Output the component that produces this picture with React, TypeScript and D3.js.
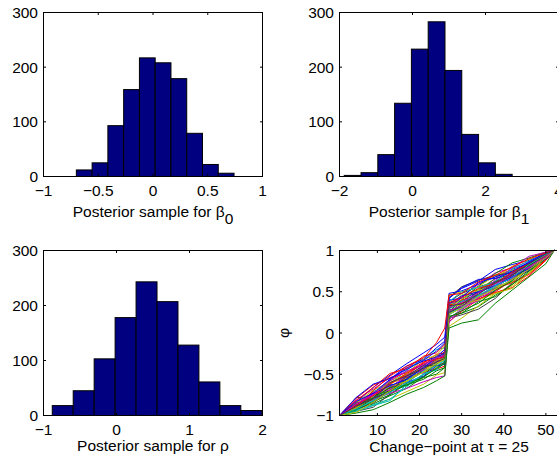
import React from 'react';
import * as d3 from 'd3';

// histogram bins: [first edge, last edge] and counts of the 10 bins
const beta0Range = [-0.7, 0.74];
const beta0Counts = [12, 25, 93, 159, 217, 208, 179, 79, 22, 6];
const beta1Range = [-1.87, 2.73];
const beta1Counts = [2, 7, 40, 134, 233, 283, 194, 77, 25, 4];
const rhoRange = [-0.88, 1.99];
const rhoCounts = [18, 45, 103, 178, 243, 207, 128, 61, 18, 9];

const countTicks = [0, 100, 200, 300];
const beta0Ticks = [-1, -0.5, 0, 0.5, 1];
const beta1Ticks = [-2, 0, 2, 4];
const rhoTicks = [-1, 0, 1, 2];

// phi sample paths, read at these change-point steps
const phiSteps = [1, 5, 9, 13, 17, 21, 24, 26, 27, 30, 34, 38, 42, 46, 50, 52];
const phiPaths = [
  [-1, -0.84, -0.66, -0.51, -0.37, -0.24, -0.14, -0.05, 0.48, 0.51, 0.59, 0.68, 0.77, 0.85, 0.96, 1],
  [-1, -0.92, -0.86, -0.76, -0.67, -0.53, -0.42, -0.35, 0.2, 0.24, 0.32, 0.46, 0.59, 0.73, 0.9, 1],
  [-1, -0.87, -0.75, -0.6, -0.51, -0.36, -0.26, -0.24, 0.3, 0.36, 0.44, 0.56, 0.71, 0.85, 0.95, 1],
  [-1, -0.94, -0.82, -0.68, -0.53, -0.41, -0.37, -0.34, 0.22, 0.34, 0.5, 0.63, 0.75, 0.83, 0.94, 1],
  [-1, -0.81, -0.68, -0.54, -0.47, -0.39, -0.33, -0.29, 0.32, 0.44, 0.59, 0.73, 0.79, 0.87, 0.97, 1],
  [-1, -0.91, -0.88, -0.8, -0.71, -0.62, -0.51, -0.48, 0.08, 0.18, 0.33, 0.48, 0.57, 0.72, 0.89, 1],
  [-1, -0.78, -0.8, -0.72, -0.58, -0.44, -0.32, -0.22, 0.38, 0.48, 0.56, 0.62, 0.69, 0.78, 0.92, 1],
  [-1, -0.9, -0.74, -0.57, -0.42, -0.34, -0.29, -0.2, 0.42, 0.54, 0.63, 0.77, 0.83, 0.88, 0.96, 1],
  [-1, -0.93, -0.84, -0.69, -0.63, -0.56, -0.46, -0.42, 0.24, 0.38, 0.53, 0.61, 0.67, 0.75, 0.9, 1],
  [-1, -0.83, -0.76, -0.67, -0.54, -0.48, -0.44, -0.4, 0.14, 0.26, 0.41, 0.49, 0.55, 0.69, 0.88, 1],
  [-1, -0.88, -0.71, -0.62, -0.45, -0.3, -0.2, -0.18, 0.34, 0.39, 0.45, 0.52, 0.65, 0.83, 0.97, 1],
  [-1, -0.92, -0.78, -0.61, -0.53, -0.48, -0.38, -0.27, 0.28, 0.31, 0.39, 0.54, 0.7, 0.86, 0.96, 1],
  [-1, -0.85, -0.69, -0.6, -0.55, -0.47, -0.42, -0.32, 0.33, 0.46, 0.53, 0.66, 0.81, 0.89, 0.98, 1],
  [-1, -0.95, -0.9, -0.74, -0.6, -0.45, -0.34, -0.3, 0.18, 0.22, 0.29, 0.42, 0.61, 0.77, 0.92, 1],
  [-1, -0.87, -0.73, -0.56, -0.4, -0.32, -0.18, -0.1, 0.4, 0.42, 0.49, 0.58, 0.66, 0.76, 0.91, 1],
  [-1, -0.91, -0.83, -0.75, -0.61, -0.54, -0.5, -0.42, 0.26, 0.4, 0.57, 0.72, 0.85, 0.91, 0.98, 1],
  [-1, -0.79, -0.63, -0.55, -0.48, -0.35, -0.31, -0.23, 0.36, 0.4, 0.46, 0.54, 0.61, 0.71, 0.89, 1],
  [-1, -0.93, -0.81, -0.65, -0.57, -0.42, -0.3, -0.28, 0.25, 0.29, 0.43, 0.58, 0.73, 0.81, 0.92, 1],
  [-1, -0.88, -0.81, -0.73, -0.67, -0.59, -0.54, -0.52, 0.13, 0.28, 0.43, 0.51, 0.66, 0.8, 0.94, 1],
  [-1, -0.84, -0.72, -0.63, -0.48, -0.32, -0.27, -0.16, 0.46, 0.5, 0.56, 0.7, 0.76, 0.84, 0.95, 1],
  [-1, -0.92, -0.85, -0.7, -0.55, -0.39, -0.28, -0.26, 0.24, 0.35, 0.51, 0.66, 0.71, 0.77, 0.91, 1],
  [-1, -0.86, -0.78, -0.63, -0.6, -0.52, -0.4, -0.38, 0.3, 0.43, 0.61, 0.68, 0.75, 0.85, 0.95, 1],
  [-1, -0.9, -0.76, -0.7, -0.64, -0.5, -0.38, -0.29, 0.2, 0.24, 0.38, 0.44, 0.59, 0.75, 0.92, 1],
  [-1, -0.82, -0.66, -0.49, -0.43, -0.28, -0.24, -0.14, 0.34, 0.36, 0.41, 0.5, 0.64, 0.81, 0.96, 1],
  [-1, -0.94, -0.87, -0.8, -0.65, -0.49, -0.45, -0.35, 0.38, 0.5, 0.55, 0.62, 0.78, 0.87, 0.96, 1],
  [-1, -0.87, -0.72, -0.66, -0.51, -0.45, -0.35, -0.33, 0.16, 0.3, 0.47, 0.64, 0.79, 0.93, 0.98, 1],
  [-1, -0.91, -0.77, -0.58, -0.5, -0.43, -0.39, -0.3, 0.32, 0.34, 0.4, 0.48, 0.54, 0.73, 0.91, 1],
  [-1, -0.85, -0.79, -0.71, -0.56, -0.41, -0.36, -0.25, 0.43, 0.56, 0.64, 0.7, 0.73, 0.83, 0.95, 1],
  [-1, -0.78, -0.62, -0.55, -0.44, -0.33, -0.22, -0.12, 0.42, 0.55, 0.65, 0.66, 0.74, 0.86, 0.97, 1],
  [-1, -0.97, -0.93, -0.84, -0.74, -0.66, -0.58, -0.52, 0.06, 0.12, 0.16, 0.36, 0.52, 0.68, 0.84, 1],
  [-1, -0.9, -0.7, -0.52, -0.4, -0.3, -0.12, 0.06, 0.46, 0.48, 0.62, 0.7, 0.8, 0.9, 0.97, 1],
  [-1, -0.95, -0.88, -0.82, -0.62, -0.5, -0.44, -0.36, 0.22, 0.31, 0.45, 0.55, 0.64, 0.8, 0.93, 1],
  [-1, -0.86, -0.74, -0.69, -0.51, -0.41, -0.34, -0.26, 0.27, 0.33, 0.42, 0.6, 0.68, 0.79, 0.92, 1],
  [-1, -0.9, -0.8, -0.64, -0.59, -0.47, -0.33, -0.31, 0.31, 0.41, 0.52, 0.56, 0.62, 0.78, 0.93, 1],
  [-1, -0.88, -0.79, -0.71, -0.52, -0.39, -0.4, -0.36, 0.25, 0.32, 0.49, 0.62, 0.72, 0.82, 0.93, 1],
  [-1, -0.83, -0.73, -0.64, -0.56, -0.42, -0.3, -0.24, 0.35, 0.45, 0.5, 0.57, 0.68, 0.78, 0.9, 1],
  [-1, -0.93, -0.79, -0.66, -0.63, -0.53, -0.43, -0.37, 0.19, 0.27, 0.36, 0.52, 0.63, 0.82, 0.95, 1],
  [-1, -0.87, -0.76, -0.62, -0.49, -0.37, -0.32, -0.28, 0.37, 0.43, 0.54, 0.6, 0.74, 0.84, 0.94, 1],
  [-1, -0.92, -0.82, -0.72, -0.6, -0.46, -0.4, -0.33, 0.29, 0.38, 0.46, 0.57, 0.67, 0.83, 0.95, 1],
  [-1, -0.86, -0.75, -0.58, -0.46, -0.38, -0.3, -0.27, 0.31, 0.37, 0.49, 0.6, 0.72, 0.8, 0.93, 1],
  [-1, -0.96, -0.84, -0.7, -0.58, -0.47, -0.37, -0.32, 0.23, 0.3, 0.44, 0.53, 0.65, 0.77, 0.91, 1],
  [-1, -0.89, -0.8, -0.6, -0.52, -0.43, -0.35, -0.31, 0.33, 0.35, 0.47, 0.61, 0.7, 0.84, 0.96, 1],
];
const phiTicksX = [10, 20, 30, 40, 50];
const phiTicksY = [-1, -0.5, 0, 0.5, 1];
const phiDomainX = [1, 53];

// matlab default colour order
const lineColors = ['#0000ff', '#008000', '#ff0000', '#00bfbf', '#bf00bf', '#bfbf00', '#404040'];

const FONT = 'Arial, "Liberation Sans", Helvetica, sans-serif';
const FS = 15.5;
const TICK = 2.5;

const cols = [[43.5, 262.5], [339.5, 558.5]];
const rows = [[12.5, 176.5], [250.5, 415.5]];

const fmt = (v: number) => (v < 0 ? '\u2212' + Math.abs(v) : String(v));

function Frame({ x, y, xTicks, yTicks }: any) {
  const [x0, x1] = x.range();
  const [y0, y1] = y.range(); // y0 bottom, y1 top
  return (
    <g>
      <rect x={x0} y={y1} width={x1 - x0} height={y0 - y1} fill="none" stroke="#000" strokeWidth={1} />
      {xTicks.map((t: number) => (
        <g key={'x' + t}>
          <line x1={x(t)} x2={x(t)} y1={y0} y2={y0 - TICK} stroke="#000" />
          <line x1={x(t)} x2={x(t)} y1={y1} y2={y1 + TICK} stroke="#000" />
          <text x={x(t)} y={y0 + 19} textAnchor="middle">{fmt(t)}</text>
        </g>
      ))}
      {yTicks.map((t: number) => (
        <g key={'y' + t}>
          <line x1={x0} x2={x0 + TICK} y1={y(t)} y2={y(t)} stroke="#000" />
          <line x1={x1} x2={x1 - TICK} y1={y(t)} y2={y(t)} stroke="#000" />
          <text x={x0 - 5.5} y={y(t)} dy="0.36em" textAnchor="end">{fmt(t)}</text>
        </g>
      ))}
    </g>
  );
}

function Hist({ col, row, range, counts, ticks, label, sub, labelDy }: any) {
  const x = d3.scaleLinear().domain([ticks[0], ticks[ticks.length - 1]]).range(cols[col]);
  const y = d3.scaleLinear().domain([0, 300]).range([rows[row][1], rows[row][0]]);
  const w = (range[1] - range[0]) / counts.length;
  const edges = d3.range(counts.length).map((i) => range[0] + i * w);
  return (
    <g>
      {counts.map((c: number, i: number) => (
        <rect key={i} x={x(edges[i])} y={y(c)} width={x(edges[i] + w) - x(edges[i])}
          height={y(0) - y(c)} fill="#000080" stroke="#000" strokeWidth={1} />
      ))}
      <Frame x={x} y={y} xTicks={ticks} yTicks={countTicks} />
      <text x={(cols[col][0] + cols[col][1]) / 2} y={rows[row][1] + labelDy} textAnchor="middle">
        {label}
        {sub !== undefined && <tspan dy={6.5}>{sub}</tspan>}
      </text>
    </g>
  );
}

function PhiPanel() {
  const x = d3.scaleLinear().domain(phiDomainX).range(cols[1]);
  const y = d3.scaleLinear().domain([-1, 1]).range([rows[1][1], rows[1][0]]);
  const line = d3.line<number>().x((_, i) => x(phiSteps[i])).y((d) => y(d));
  return (
    <g>
      {phiPaths.map((p, i) => (
        <path key={i} d={line(p) || ''} fill="none" stroke={lineColors[i % lineColors.length]} strokeWidth={1} />
      ))}
      <Frame x={x} y={y} xTicks={phiTicksX} yTicks={phiTicksY} />
      <text x={(cols[1][0] + cols[1][1]) / 2} y={rows[1][1] + 36} textAnchor="middle">
        Change−point at τ = 25
      </text>
      <text transform={`translate(289,${(rows[1][0] + rows[1][1]) / 2}) rotate(-90)`} textAnchor="middle">φ</text>
    </g>
  );
}

export default function App() {
  return (
    <svg width={557} height={461} style={{ position: 'absolute', left: 0, top: 0, background: '#fff' }}
      fontFamily={FONT} fontSize={FS} fill="#000">
      <rect width={557} height={461} fill="#fff" />
      <Hist col={0} row={0} range={beta0Range} counts={beta0Counts} ticks={beta0Ticks}
        label="Posterior sample for β" sub="0" labelDy={40.5} />
      <Hist col={1} row={0} range={beta1Range} counts={beta1Counts} ticks={beta1Ticks}
        label="Posterior sample for β" sub="1" labelDy={40.5} />
      <Hist col={0} row={1} range={rhoRange} counts={rhoCounts} ticks={rhoTicks}
        label="Posterior sample for ρ" labelDy={35} />
      <PhiPanel />
    </svg>
  );
}
